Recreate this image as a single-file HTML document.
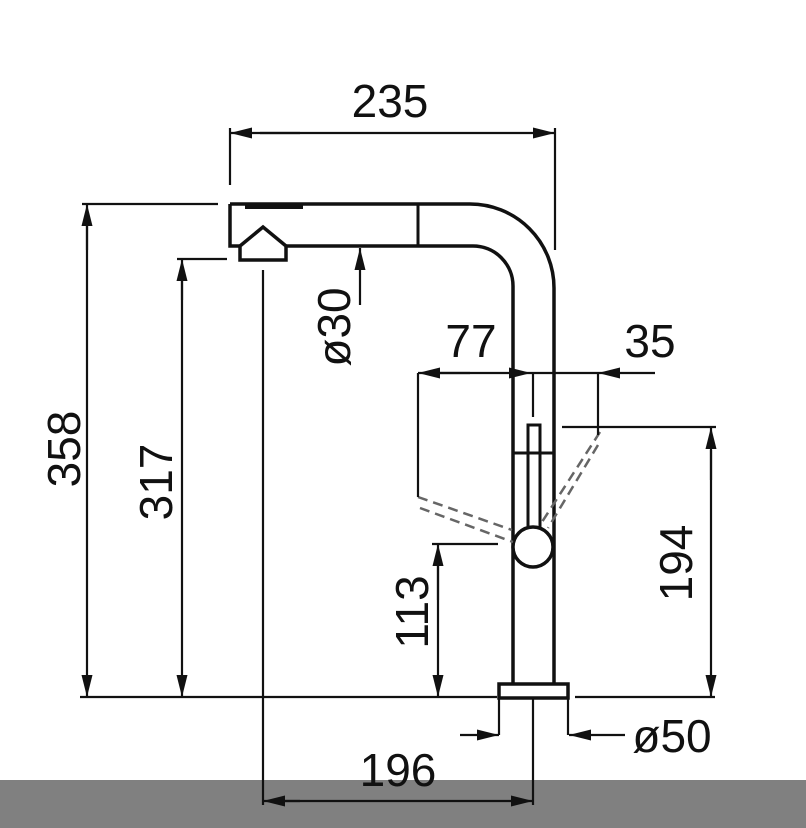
<!DOCTYPE html>
<html><head><meta charset="utf-8"><style>
html,body{margin:0;padding:0;background:#fff}
svg{display:block}
text{font-family:"Liberation Sans",sans-serif;font-size:46px;fill:#111}
</style></head><body>
<svg width="806" height="828" viewBox="0 0 806 828" xmlns="http://www.w3.org/2000/svg">
<defs>
<marker id="a" viewBox="0 0 22 11" refX="22" refY="5.5" markerWidth="22" markerHeight="11" markerUnits="userSpaceOnUse" orient="auto"><path d="M0,0 L22,5.5 L0,11 Z" fill="#111"/></marker>
</defs>
<rect x="0" y="780" width="806" height="48" fill="#808080"/>
<g stroke="#111" fill="none" stroke-width="2.2">
<path d="M230,204 L470,204 A84,84 0 0 1 554,288 L554,684" stroke-width="3.5"/>
<path d="M286,246 L473,246 A40,40 0 0 1 513,286 L513,684" stroke-width="3.5"/>
<path d="M230,204 L230,246 L240,246" stroke-width="3.5"/>
<line x1="418" y1="204" x2="418" y2="246" stroke-width="3"/>
<line x1="245" y1="207" x2="303" y2="207" stroke-width="4"/>
<path d="M240,260 L240,246 L263,227 L286,246 L286,260 Z" stroke-width="3.5"/>
<rect x="499" y="684" width="69" height="14" stroke-width="3.5"/>
<line x1="513" y1="453" x2="554" y2="453" stroke-width="3"/>
<path d="M528,527 L528,425 L540,425 L540,527" stroke-width="3"/>
<circle cx="533" cy="547" r="20" fill="#fff" stroke-width="3.5"/>
<g stroke="#666" stroke-dasharray="10,6" stroke-width="2.5">
<line x1="418" y1="497" x2="512" y2="530"/>
<line x1="420" y1="508" x2="513" y2="542"/>
<line x1="600" y1="432" x2="542" y2="522"/>
<line x1="598" y1="445" x2="548" y2="528"/>
</g>
<!-- 235 -->
<path d="M300,133 L230,133" marker-end="url(#a)"/>
<path d="M260,133 L555,133" marker-end="url(#a)"/>
<line x1="230" y1="128" x2="230" y2="185"/>
<line x1="555" y1="128" x2="555" y2="250"/>
<!-- 358 -->
<line x1="82" y1="204" x2="218" y2="204"/>
<path d="M87,250 L87,204" marker-end="url(#a)"/>
<path d="M87,220 L87,697" marker-end="url(#a)"/>
<!-- 317 -->
<line x1="177" y1="259" x2="227" y2="259"/>
<path d="M182,300 L182,259" marker-end="url(#a)"/>
<path d="M182,280 L182,697" marker-end="url(#a)"/>
<line x1="80" y1="697" x2="497" y2="697"/>
<line x1="575" y1="697" x2="715" y2="697"/>
<path d="M360,305 L360,248" marker-end="url(#a)"/>
<line x1="418" y1="373" x2="418" y2="497"/>
<line x1="533" y1="373" x2="533" y2="417"/>
<line x1="598" y1="373" x2="598" y2="435"/>
<path d="M470,373 L418,373" marker-end="url(#a)"/>
<path d="M440,373 L531,373" marker-end="url(#a)"/>
<path d="M655,373 L598,373" marker-end="url(#a)"/>
<line x1="531" y1="373" x2="598" y2="373"/>
<line x1="432" y1="544" x2="498" y2="544"/>
<path d="M438,600 L438,544" marker-end="url(#a)"/>
<path d="M438,560 L438,697" marker-end="url(#a)"/>
<line x1="562" y1="427" x2="716" y2="427"/>
<path d="M711,480 L711,427" marker-end="url(#a)"/>
<path d="M711,450 L711,697" marker-end="url(#a)"/>
<line x1="499" y1="698" x2="499" y2="735"/>
<line x1="568" y1="698" x2="568" y2="735"/>
<path d="M460,735 L499,735" marker-end="url(#a)"/>
<path d="M625,735 L569,735" marker-end="url(#a)"/>
<line x1="263" y1="270" x2="263" y2="805"/>
<line x1="533" y1="698" x2="533" y2="805"/>
<path d="M300,801 L263,801" marker-end="url(#a)"/>
<path d="M280,801 L533,801" marker-end="url(#a)"/>
</g>
<text x="390" y="117" text-anchor="middle">235</text>
<text x="471" y="357" text-anchor="middle">77</text>
<text x="650" y="357" text-anchor="middle">35</text>
<text x="672" y="752" text-anchor="middle">ø50</text>
<text x="398" y="786" text-anchor="middle">196</text>
<text transform="translate(80,449) rotate(-90)" text-anchor="middle">358</text>
<text transform="translate(172,482) rotate(-90)" text-anchor="middle">317</text>
<text transform="translate(350,327) rotate(-90)" text-anchor="middle">ø30</text>
<text transform="translate(428,612) rotate(-90)" text-anchor="middle">113</text>
<text transform="translate(692,563) rotate(-90)" text-anchor="middle">194</text>
</svg>
</body></html>
